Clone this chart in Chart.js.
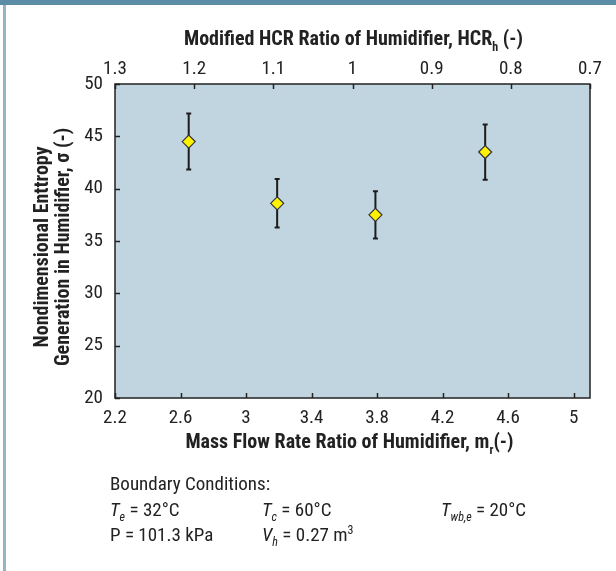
<!DOCTYPE html>
<html><head><meta charset="utf-8">
<script src="https://cdn.jsdelivr.net/npm/chart.js@4"></script>
<style>
html,body{margin:0;padding:0;background:#fff;}
#wrap{position:relative;width:616px;height:571px;overflow:hidden;background:#fff;}
#topbar{position:absolute;left:0;top:0;width:616px;height:5px;background:#5b8ea6;}
#leftbar{position:absolute;left:3px;top:5px;width:3px;height:566px;background:#8fb5c7;}
canvas{position:absolute;left:0;top:0;}
.bc{position:absolute;font-family:'Liberation Sans Narrow','Roboto Condensed','DejaVu Sans Condensed','Liberation Sans',sans-serif;font-size:19px;color:#222;white-space:nowrap;line-height:20px;}
.bc i{font-style:italic;}
.bc sub{font-size:12px;font-style:italic;vertical-align:-5px;line-height:0;}
.bc sup{font-size:12px;vertical-align:7px;line-height:0;}
</style></head>
<body>
<div id="wrap">
<canvas id="c" width="616" height="571"></canvas>
<div id="topbar"></div>
<div id="leftbar"></div>
<div class="bc" style="left:110px;top:474px;">Boundary Conditions:</div>
<div class="bc" style="left:110px;top:500px;"><i>T</i><sub>e</sub> = 32°C</div>
<div class="bc" style="left:262px;top:500px;"><i>T</i><sub>c</sub> = 60°C</div>
<div class="bc" style="left:441px;top:500px;"><i>T</i><sub>wb,e</sub> = 20°C</div>
<div class="bc" style="left:110px;top:525px;">P = 101.3 kPa</div>
<div class="bc" style="left:262px;top:525px;"><i>V</i><sub>h</sub> = 0.27 m<sup>3</sup></div>
</div>
<script>
// ---- data ----
const mrValues = [2.65, 3.19, 3.79, 4.46];
const sigmaValues = [44.5, 38.6, 37.5, 43.5];
const sigmaErr = [2.68, 2.32, 2.26, 2.64];
const xTicks = [2.2, 2.6, 3, 3.4, 3.8, 4.2, 4.6, 5];
const topTicks = [1.3, 1.2, 1.1, 1, 0.9, 0.8, 0.7];
const yTicks = [20, 25, 30, 35, 40, 45, 50];

const FONT = "'Liberation Sans Narrow','Roboto Condensed','DejaVu Sans Condensed','Liberation Sans',sans-serif";
const INK = '#222';

function drawParts(ctx, parts, x, y, size, bold) {
  const main = (bold ? 'bold ' : '') + size + 'px ' + FONT;
  const sub = (bold ? 'bold ' : '') + Math.round(size * 0.62) + 'px ' + FONT;
  let total = 0;
  parts.forEach(p => { ctx.font = p[1] ? sub : main; total += ctx.measureText(p[0]).width; });
  let cx = x - total / 2;
  ctx.textAlign = 'left';
  ctx.textBaseline = 'middle';
  parts.forEach(p => {
    ctx.font = p[1] ? sub : main;
    ctx.fillText(p[0], cx, p[1] ? y + size * 0.38 : y);
    cx += ctx.measureText(p[0]).width;
  });
}

const decor = {
  id: 'decor',
  beforeDraw(chart) {
    const {ctx, chartArea: a} = chart;
    ctx.save();
    ctx.fillStyle = '#c1d5e0';
    ctx.fillRect(a.left, a.top, a.right - a.left, a.bottom - a.top);
    ctx.restore();
  },
  beforeDatasetsDraw(chart) {
    const {ctx} = chart;
    const xs = chart.scales.x, ys = chart.scales.y;
    ctx.save();
    ctx.strokeStyle = '#1c1c1c';
    ctx.lineWidth = 2;
    mrValues.forEach((m, i) => {
      const px = xs.getPixelForValue(m);
      const t = ys.getPixelForValue(sigmaValues[i] + sigmaErr[i]);
      const b = ys.getPixelForValue(sigmaValues[i] - sigmaErr[i]);
      ctx.beginPath();
      ctx.moveTo(px, t); ctx.lineTo(px, b);
      ctx.moveTo(px - 2.5, t); ctx.lineTo(px + 2.5, t);
      ctx.moveTo(px - 2.5, b); ctx.lineTo(px + 2.5, b);
      ctx.stroke();
    });
    ctx.restore();
  },
  afterDraw(chart) {
    const {ctx, chartArea: a} = chart;
    const xs = chart.scales.x, x2 = chart.scales.x2, ys = chart.scales.y;
    ctx.save();
    ctx.strokeStyle = INK;
    ctx.lineWidth = 1.5;
    ctx.strokeRect(a.left, a.top, a.right - a.left, a.bottom - a.top);
    ctx.beginPath();
    xTicks.forEach(v => { const p = Math.round(xs.getPixelForValue(v)) + 0.5; ctx.moveTo(p, a.bottom); ctx.lineTo(p, a.bottom - 5); });
    topTicks.forEach(v => { const p = Math.round(x2.getPixelForValue(v)) + 0.5; ctx.moveTo(p, a.top); ctx.lineTo(p, a.top + 5); });
    yTicks.forEach(v => { const p = Math.round(ys.getPixelForValue(v)) + 0.5; ctx.moveTo(a.left, p); ctx.lineTo(a.left + 5, p); });
    ctx.stroke();
    ctx.fillStyle = INK;
    const cx = (a.left + a.right) / 2;
    drawParts(ctx, [['Modified HCR Ratio of Humidifier, HCR', 0], ['h', 1], [' (-)', 0]], cx + 1, 40, 20, true);
    drawParts(ctx, [['Mass Flow Rate Ratio of Humidifier, m', 0], ['r', 1], ['(-)', 0]], cx - 3, 443, 20, true);
    ctx.save();
    ctx.translate(43, 247);
    ctx.rotate(-Math.PI / 2);
    drawParts(ctx, [['Nondimensional Enttropy', 0]], 0, 0, 20, true);
    ctx.restore();
    ctx.save();
    ctx.translate(64, 247);
    ctx.rotate(-Math.PI / 2);
    drawParts(ctx, [['Generation in Humidifier, σ (-)', 0]], 0, 0, 20, true);
    ctx.restore();
    ctx.restore();
  }
};

new Chart(document.getElementById('c'), {
  type: 'scatter',
  data: {
    datasets: [{
      label: 'σ',
      data: mrValues.map((m, i) => ({x: m, y: sigmaValues[i]})),
      pointStyle: 'rectRot',
      pointRadius: 6.5,
      pointHoverRadius: 6.5,
      backgroundColor: '#fff200',
      borderColor: '#333',
      borderWidth: 1.2,
      xAxisID: 'x',
      yAxisID: 'y'
    }]
  },
  options: {
    responsive: false,
    devicePixelRatio: 1,
    animation: false,
    events: [],
    layout: {padding: {left: 0, right: 26, top: 0, bottom: 0}},
    plugins: {legend: {display: false}, tooltip: {enabled: false}},
    scales: {
      x: {
        type: 'linear', position: 'bottom', min: 2.2, max: 5.1,
        afterBuildTicks: s => { s.ticks = xTicks.map(v => ({value: v})); },
        afterFit: s => { s.height = 571 - 398; },
        grid: {display: false, drawTicks: false},
        border: {display: false},
        ticks: {padding: 9, color: INK, font: {family: FONT, size: 19}, maxRotation: 0, autoSkip: false,
          callback: v => String(Math.round(v * 10) / 10)}
      },
      x2: {
        type: 'linear', position: 'top', min: 0.7, max: 1.3, reverse: true,
        afterBuildTicks: s => { s.ticks = topTicks.map(v => ({value: v})); },
        afterFit: s => { s.height = 84; },
        grid: {display: false, drawTicks: false},
        border: {display: false},
        ticks: {padding: 3, color: INK, font: {family: FONT, size: 19}, maxRotation: 0, autoSkip: false,
          callback: v => String(Math.round(v * 10) / 10)}
      },
      y: {
        type: 'linear', position: 'left', min: 20, max: 50,
        afterBuildTicks: s => { s.ticks = yTicks.map(v => ({value: v})); },
        afterFit: s => { s.width = 115; },
        grid: {display: false, drawTicks: false},
        border: {display: false},
        ticks: {padding: 12, color: INK, font: {family: FONT, size: 19}, autoSkip: false}
      }
    }
  },
  plugins: [decor]
});
</script>
</body></html>
